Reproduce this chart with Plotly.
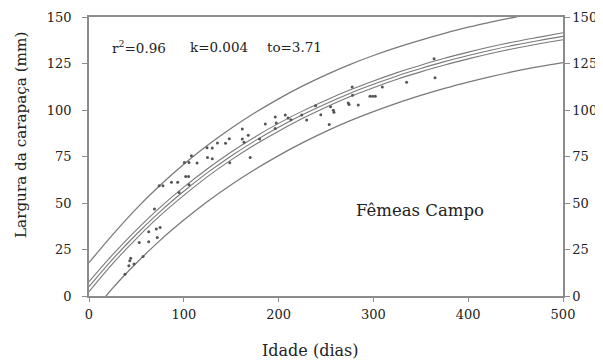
import plotly.graph_objects as go

# Curve sample ages (days) and values
age = [0, 25, 50, 75, 100, 125, 150, 175, 200, 225, 250, 275, 300, 325, 350, 375, 400, 425, 450, 475, 500]
fit = [5.0, 19.8, 33.2, 45.4, 56.3, 66.3, 75.3, 83.4, 90.7, 97.4, 103.4, 108.9, 113.8, 118.3, 122.3, 126.0, 129.3, 132.3, 135.0, 137.4, 139.6]
conf_upper = [7.7, 22.2, 35.5, 47.6, 58.5, 68.4, 77.4, 85.5, 92.8, 99.4, 105.3, 110.7, 115.6, 120.1, 124.1, 127.8, 131.1, 134.1, 136.8, 139.2, 141.5]
conf_lower = [2.3, 17.4, 30.9, 43.2, 54.1, 64.2, 73.2, 81.3, 88.6, 95.4, 101.5, 107.1, 112.0, 116.5, 120.5, 124.2, 127.5, 130.5, 133.2, 135.6, 137.8]
pred_upper = [17.9, 33.0, 47.0, 59.5, 70.8, 81.0, 90.2, 98.5, 106.0, 112.8, 118.9, 124.4, 129.3, 133.7, 137.6, 141.2, 144.5, 147.4, 150.0, 152.3, 154.4]
pred_lower = [-11.2, 4.2, 17.7, 29.9, 40.8, 50.8, 59.8, 68.0, 75.5, 82.3, 88.5, 94.1, 99.1, 103.7, 107.8, 111.6, 115.0, 118.1, 120.9, 123.3, 125.5]

# Observed females (age, carapace width)
obs_age = [38, 42, 43, 44, 47.5, 53, 57, 63, 63, 69, 71, 72, 75, 74, 78, 87, 93.5, 95, 102, 105, 105.5,
           100.6, 105.5, 108, 114, 124.5, 130, 125, 130, 135.5, 144, 148, 148.5, 161.7, 161.7, 163.5, 168,
           170, 180, 186, 196.5, 197.5, 196.5, 207, 210, 213, 224.4, 229.6, 239, 244.5, 254.8, 257.7, 258.4,
           253.4, 273.5, 274.3, 277.6, 278, 284, 296.4, 299.2, 302, 309.4, 335, 364, 365]
obs_width = [11.7, 16.2, 18.9, 20.3, 17.2, 28.7, 21.2, 29.2, 34.5, 46.8, 36.0, 31.5, 36.8, 59.3, 59.3, 61.1, 61.1, 55.7, 64.3, 64.3, 59.8,
             71.8, 71.8, 75.4, 71.5, 79.7, 79.6, 74.4, 73.8, 82.2, 82.1, 84.6, 71.6, 89.8, 84.4, 82.6, 86.4,
             74.4, 84.4, 92.5, 96.2, 93.0, 90.0, 97.3, 95.7, 94.8, 97.3, 94.6, 102.3, 97.5, 101.8, 99.8, 98.8,
             92.2, 103.8, 103.0, 112.3, 107.9, 102.7, 107.4, 107.4, 107.4, 112.4, 114.9, 127.5, 117.3]

x_ticks = [0, 100, 200, 300, 400, 500]
y_ticks = [0, 25, 50, 75, 100, 125, 150]

line_col = "#7a7a7a"
axis_col = "#8c8c8c"
font_fam = "DejaVu Serif"
txt_col = "#222222"

fig = go.Figure()
for ys, w in [(pred_upper, 1.3), (conf_upper, 1.1), (fit, 1.1), (conf_lower, 1.1), (pred_lower, 1.3)]:
    fig.add_trace(go.Scatter(x=age, y=ys, mode="lines", line=dict(color=line_col, width=w, shape="spline"),
                             showlegend=False, hoverinfo="skip"))

fig.add_trace(go.Scatter(x=obs_age, y=obs_width, mode="markers",
                         marker=dict(size=3, color="#555555"), showlegend=False))

# invisible trace for the right-hand axis
fig.add_trace(go.Scatter(x=[0], y=[0], yaxis="y2", mode="markers", marker=dict(opacity=0),
                         showlegend=False, hoverinfo="skip"))

axis_font = dict(family=font_fam, size=13, color=txt_col)
fig.update_layout(
    width=595, height=353,
    margin=dict(l=81, r=40, t=9, b=65),
    paper_bgcolor="white", plot_bgcolor="white",
    font=dict(family=font_fam, color=txt_col),
    xaxis=dict(range=[0, 500], tickvals=x_ticks, ticks="outside", ticklen=4, tickcolor=axis_col,
               showline=True, linecolor=axis_col, linewidth=1.5, mirror=True, showgrid=False, zeroline=False,
               tickfont=axis_font, automargin=False, ticklabelstandoff=2),
    yaxis=dict(range=[0, 150], tickvals=y_ticks, ticks="outside", ticklen=5, tickcolor=axis_col,
               showline=True, linecolor=axis_col, linewidth=1.5, showgrid=False, zeroline=False,
               tickfont=axis_font, automargin=False, ticklabelstandoff=8),
    yaxis2=dict(range=[0, 150], tickvals=y_ticks, ticks="outside", ticklen=5, tickcolor=axis_col,
                overlaying="y", side="right", showline=True, linecolor=axis_col, linewidth=1.5,
                showgrid=False, zeroline=False, tickfont=axis_font, automargin=False),
    annotations=[
        dict(x=22, y=134, xref="x", yref="y", text="r<sup>2</sup>=0.96", showarrow=False, xanchor="left",
             font=dict(family=font_fam, size=13.5, color=txt_col)),
        dict(x=104, y=134, xref="x", yref="y", text="k=0.004", showarrow=False, xanchor="left",
             font=dict(family=font_fam, size=13.5, color=txt_col)),
        dict(x=186, y=134, xref="x", yref="y", text="to=3.71", showarrow=False, xanchor="left",
             font=dict(family=font_fam, size=13.5, color=txt_col)),
        dict(x=349, y=45.8, xref="x", yref="y", text="Fêmeas Campo", showarrow=False,
             font=dict(family=font_fam, size=16.5, color=txt_col)),
        dict(x=0.468, y=-0.197, xref="paper", yref="paper", text="Idade (dias)", showarrow=False,
             xanchor="center", yanchor="middle",
             font=dict(family=font_fam, size=16, color=txt_col)),
        dict(x=-0.1435, y=0.577, xref="paper", yref="paper", text="Largura da carapaça (mm)", showarrow=False,
             xanchor="center", yanchor="middle",
             textangle=-90, font=dict(family=font_fam, size=15.2, color=txt_col)),
    ],
)

fig.write_html("out.html")
